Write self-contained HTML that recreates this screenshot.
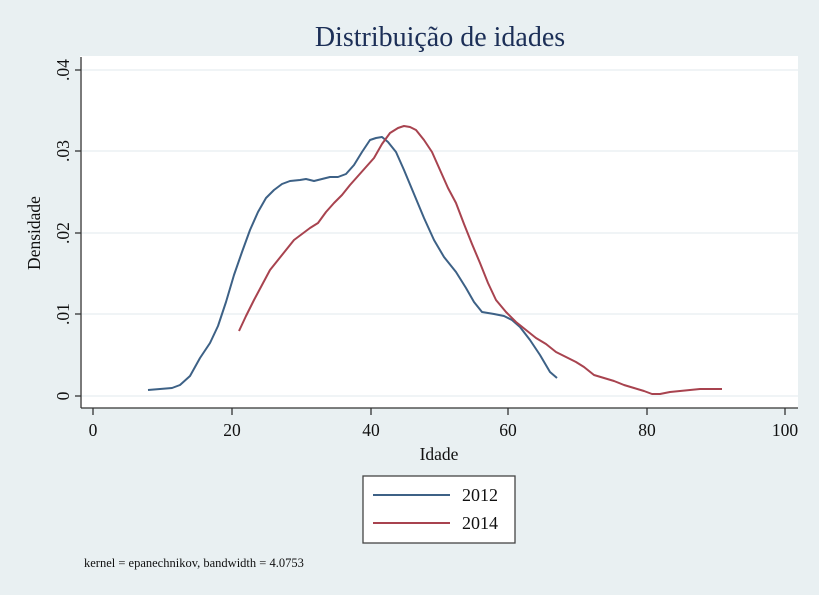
<!DOCTYPE html>
<html><head><meta charset="utf-8"><style>
html,body{margin:0;padding:0;background:#e9f0f2;}
svg{display:block;font-family:"Liberation Serif",serif;}
</style></head><body>
<svg width="819" height="595" viewBox="0 0 819 595">
<rect width="819" height="595" fill="#e9f0f2"/>
<rect x="80" y="56" width="718" height="352" fill="#fff"/>
<g stroke="#e6eef1" stroke-width="1.2">
<line x1="81" x2="798" y1="70" y2="70"/><line x1="81" x2="798" y1="151" y2="151"/>
<line x1="81" x2="798" y1="233" y2="233"/><line x1="81" x2="798" y1="314" y2="314"/>
<line x1="81" x2="798" y1="396" y2="396"/></g>
<g stroke="#333" stroke-width="1.3" fill="none">
<line x1="81" y1="57" x2="81" y2="408"/><line x1="81" y1="408" x2="798" y2="408"/>
<line x1="75" x2="81" y1="70" y2="70"/><line x1="75" x2="81" y1="151" y2="151"/>
<line x1="75" x2="81" y1="233" y2="233"/><line x1="75" x2="81" y1="314" y2="314"/>
<line x1="75" x2="81" y1="396" y2="396"/>
<line x1="93" x2="93" y1="408" y2="415"/><line x1="232" x2="232" y1="408" y2="415"/>
<line x1="371" x2="371" y1="408" y2="415"/><line x1="508" x2="508" y1="408" y2="415"/>
<line x1="647" x2="647" y1="408" y2="415"/><line x1="785" x2="785" y1="408" y2="415"/>
</g>
<g font-size="17.5" fill="#111" text-anchor="middle">
<text x="93" y="436">0</text><text x="232" y="436">20</text><text x="371" y="436">40</text>
<text x="508" y="436">60</text><text x="647" y="436">80</text><text x="785" y="436">100</text>
<text transform="translate(69,70) rotate(-90)">.04</text>
<text transform="translate(69,151) rotate(-90)">.03</text>
<text transform="translate(69,233) rotate(-90)">.02</text>
<text transform="translate(69,314) rotate(-90)">.01</text>
<text transform="translate(69,396) rotate(-90)">0</text>
<text transform="translate(40,233) rotate(-90)">Densidade</text>
<text x="439" y="460">Idade</text>
</g>
<text x="440" y="46" font-size="28" fill="#1c2f57" text-anchor="middle">Distribuição de idades</text>
<polyline fill="none" stroke="#3d6186" stroke-width="2" stroke-linejoin="round" points="148,390 160,389 172,388 180,385 190,376 200,358 210,343 218,326 226,302 234,275 242,252 250,230 258,212 266,198 274,190 282,184 290,181 300,180 306,179 314,181 322,179 330,177 338,177 346,174 354,165 362,152 370,140 376,138 382,137 388,142 396,152 404,170 414,194 424,218 434,240 444,257 456,272 466,288 474,302 482,312 494,314 504,316 512,320 520,327 530,340 540,355 550,372 557,378"/>
<polyline fill="none" stroke="#a8434f" stroke-width="2" stroke-linejoin="round" points="239,331 246,316 254,300 262,285 270,270 278,260 286,250 294,240 302,234 310,228 318,223 326,212 334,203 342,195 350,185 358,176 366,167 374,158 382,144 390,133 398,128 404,126 410,127 416,130 424,140 432,152 440,170 448,188 456,203 464,224 472,244 480,263 488,283 496,300 506,312 516,322 526,330 536,338 546,344 556,352 566,357 576,362 584,367 594,375 604,378 614,381 624,385 634,388 644,391 652,394 660,394 670,392 680,391 690,390 700,389 710,389 722,389"/>
<rect x="363" y="476" width="152" height="67" fill="#fff" stroke="#444" stroke-width="1.3"/>
<line x1="373" x2="450" y1="495" y2="495" stroke="#3d6186" stroke-width="2"/>
<line x1="373" x2="450" y1="523" y2="523" stroke="#a8434f" stroke-width="2"/>
<text x="462" y="501" font-size="18" fill="#111">2012</text>
<text x="462" y="529" font-size="18" fill="#111">2014</text>
<text x="84" y="567" font-size="12.5" fill="#111">kernel = epanechnikov, bandwidth = 4.0753</text>
</svg>
</body></html>
